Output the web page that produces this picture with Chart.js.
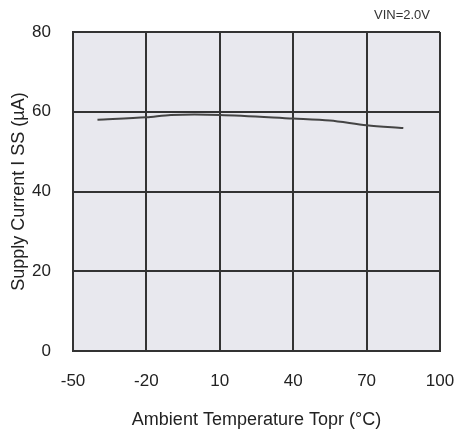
<!DOCTYPE html>
<html>
<head>
<meta charset="utf-8">
<script src="https://cdn.jsdelivr.net/npm/chart.js@4"></script>
<style>
  body { margin: 0; background: #fff; }
  canvas { display: block; }
</style>
</head>
<body>
<canvas id="supplyChart" width="459" height="434"></canvas>
<script>
// temperature (°C) vs supply current (µA)
const temps = [-40, -20, -10, 10, 40, 55, 70, 85];
const currents = [58.0, 58.6, 59.2, 59.2, 58.3, 57.8, 56.6, 55.9];
const xTicks = [-50, -20, 10, 40, 70, 100];
const yTicks = [0, 20, 40, 60, 80];
const noteText = 'VIN=2.0V';

const fontFamily = '"Liberation Sans", Arial, sans-serif';

// grey plot area + condition note
const plotBg = {
    id: 'plotBg',
    beforeDraw(chart) {
        const { ctx, chartArea: a } = chart;
        ctx.save();
        ctx.fillStyle = '#e8e8ee';
        ctx.fillRect(a.left, a.top, a.right - a.left, a.bottom - a.top);
        ctx.restore();
    },
    afterDraw(chart) {
        const { ctx, chartArea: a } = chart;
        ctx.save();
        ctx.font = '13px ' + fontFamily;
        ctx.fillStyle = '#333';
        ctx.textAlign = 'right';
        ctx.textBaseline = 'middle';
        ctx.fillText(noteText, a.right - 10, 15);
        ctx.restore();
    }
};

new Chart(document.getElementById('supplyChart'), {
    type: 'scatter',
    data: {
        datasets: [{
            data: temps.map((t, i) => ({ x: t, y: currents[i] })),
            showLine: true,
            borderColor: '#444',
            borderWidth: 2,
            pointRadius: 0,
            tension: 0.3
        }]
    },
    options: {
        responsive: false,
        animation: false,
        layout: { padding: { top: 32, right: 19, left: 0, bottom: 0 } },
        plugins: { legend: { display: false }, tooltip: { enabled: false } },
        scales: {
            x: {
                type: 'linear',
                min: xTicks[0],
                max: xTicks[xTicks.length - 1],
                afterBuildTicks: s => { s.ticks = xTicks.map(v => ({ value: v })); },
                afterFit: s => { s.height = 83; s.paddingLeft = 0; s.paddingRight = 0; },
                grid: { color: '#333', lineWidth: 2, drawTicks: false },
                border: { color: '#333', width: 2 },
                ticks: { color: '#222', padding: 20, font: { family: fontFamily, size: 17 } },
                title: {
                    display: true,
                    text: 'Ambient Temperature Topr (°C)',
                    color: '#222',
                    font: { family: fontFamily, size: 18 },
                    padding: { top: 4, bottom: 3 }
                }
            },
            y: {
                min: yTicks[0],
                max: yTicks[yTicks.length - 1],
                afterBuildTicks: s => { s.ticks = yTicks.map(v => ({ value: v })); },
                afterFit: s => { s.width = 73; s.paddingTop = 0; s.paddingBottom = 0; },
                grid: { color: '#333', lineWidth: 2, drawTicks: false },
                border: { color: '#333', width: 2 },
                ticks: { color: '#222', padding: 22, font: { family: fontFamily, size: 17 } },
                title: {
                    display: true,
                    text: 'Supply Current I SS (µA)',
                    color: '#222',
                    font: { family: fontFamily, size: 18 },
                    padding: { top: 8, bottom: 0 }
                }
            }
        }
    },
    plugins: [plotBg]
});
</script>
</body>
</html>
